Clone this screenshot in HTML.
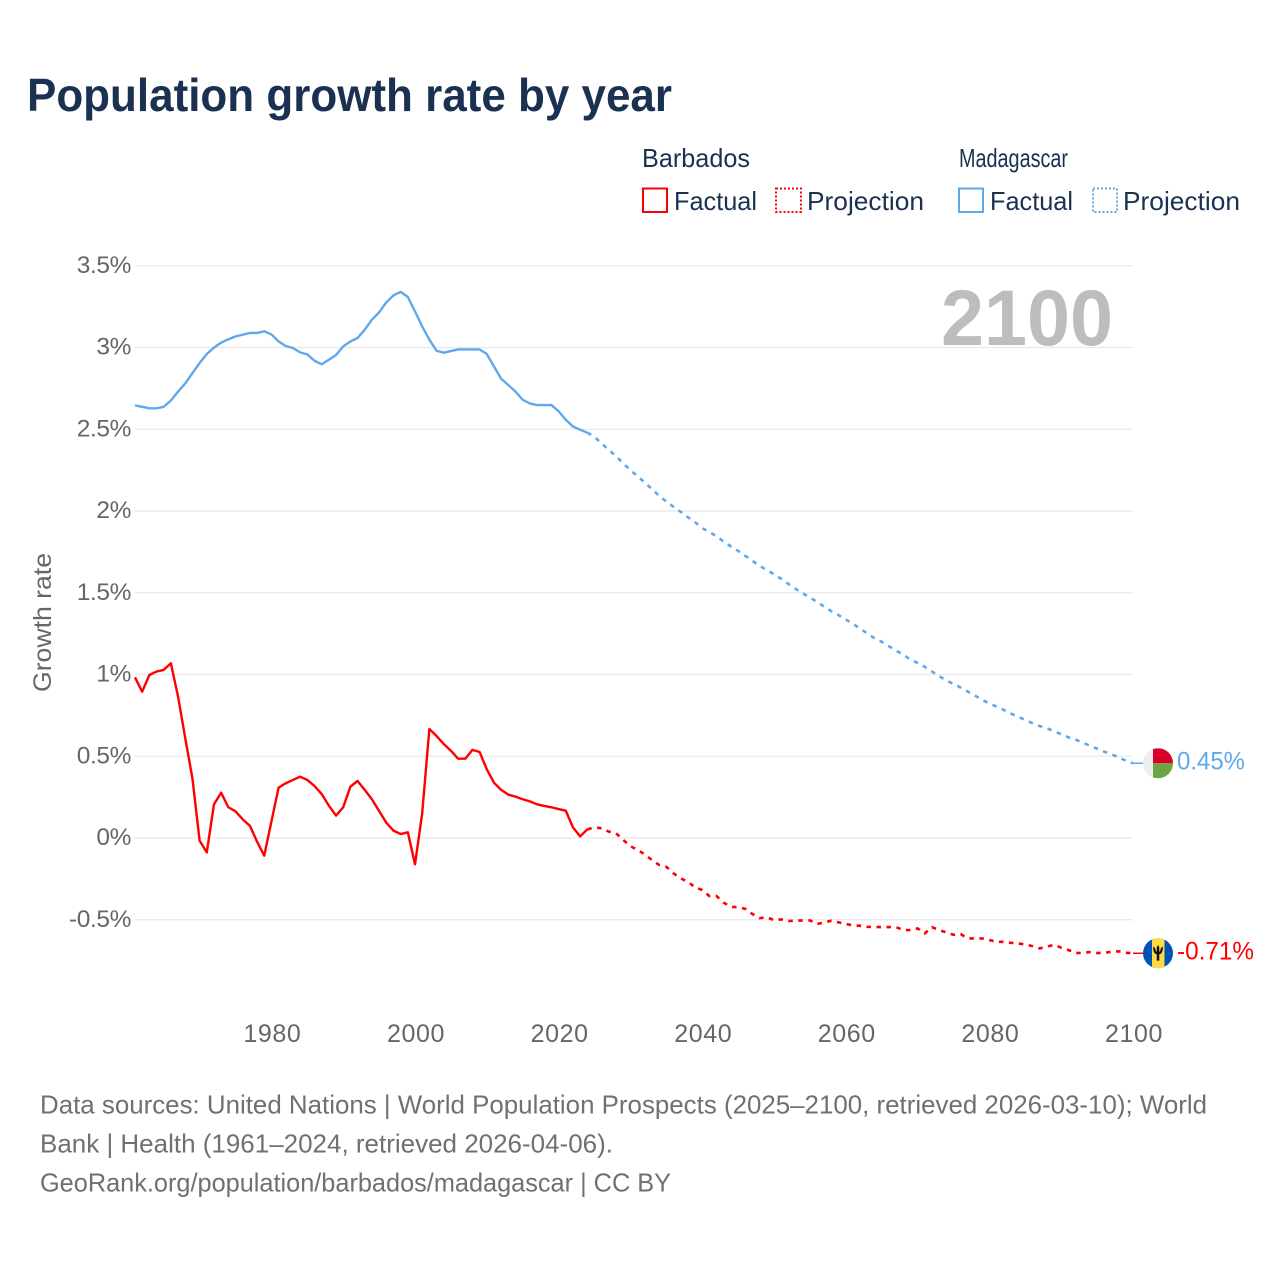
<!DOCTYPE html>
<html lang="en">
<head>
<meta charset="utf-8">
<title>Population growth rate by year</title>
<style>
html,body{margin:0;padding:0;background:#fff;}
svg{display:block;font-family:"Liberation Sans",Arial,sans-serif;}
</style>
</head>
<body>
<svg id="chart" width="1280" height="1280" viewBox="0 0 1280 1280" xmlns="http://www.w3.org/2000/svg">
  <defs>
    <clipPath id="flag-clip-mg"><circle id="flag-clip-mg-circle" r="15"/></clipPath>
    <clipPath id="flag-clip-bb"><circle id="flag-clip-bb-circle" r="15"/></clipPath>
  </defs>
  <rect width="1280" height="1280" fill="#fff"/>
  <text x="27" y="111" font-size="46" font-weight="700" fill="#1a3152" textLength="645" lengthAdjust="spacingAndGlyphs">Population growth rate by year</text>

  <g fill="#1a3152" font-size="26">
    <text x="642" y="167" textLength="108" lengthAdjust="spacingAndGlyphs">Barbados</text>
    <text x="959" y="167" textLength="109" lengthAdjust="spacingAndGlyphs">Madagascar</text>
    <rect x="643" y="188.5" width="24" height="23.5" fill="none" stroke="#ff0000" stroke-width="2"/>
    <text x="674" y="210" textLength="83" lengthAdjust="spacingAndGlyphs">Factual</text>
    <rect x="776" y="188.5" width="25" height="23.5" fill="none" stroke="#ff0000" stroke-width="2" stroke-dasharray="2 2"/>
    <text x="807" y="210" textLength="117" lengthAdjust="spacingAndGlyphs">Projection</text>
    <rect x="959" y="188.5" width="24" height="23.5" fill="none" stroke="#5ea8ee" stroke-width="2"/>
    <text x="990" y="210" textLength="83" lengthAdjust="spacingAndGlyphs">Factual</text>
    <rect x="1093" y="188.5" width="24" height="23.5" fill="none" stroke="#5ea8ee" stroke-width="2" stroke-dasharray="2 2"/>
    <text x="1123" y="210" textLength="117" lengthAdjust="spacingAndGlyphs">Projection</text>
  </g>

  <g id="grid"></g>
  <g id="y-axis" fill="#666" font-size="24.5" text-anchor="end" letter-spacing="-0.4"></g>
  <g id="x-axis" fill="#666" font-size="25" text-anchor="middle" letter-spacing="0.6"></g>

  <text transform="translate(51,692) rotate(-90)" font-size="25" fill="#666" textLength="139" lengthAdjust="spacingAndGlyphs">Growth rate</text>
  <text x="1113" y="345" font-size="79" font-weight="700" fill="#bdbdbd" text-anchor="end" textLength="172" lengthAdjust="spacingAndGlyphs">2100</text>

  <path id="mg-factual" fill="none" stroke="#5ea8ee" stroke-width="2.4" stroke-linejoin="round"/>
  <path id="mg-projection" fill="none" stroke="#5ea8ee" stroke-width="2.6" stroke-dasharray="4.5 5.5"/>
  <path id="bb-factual" fill="none" stroke="#ff0000" stroke-width="2.4" stroke-linejoin="round"/>
  <path id="bb-projection" fill="none" stroke="#ff0000" stroke-width="2.6" stroke-dasharray="4.5 5.5"/>
  <line id="mg-connector" stroke="#5ea8ee" stroke-width="1.5"/>
  <line id="bb-connector" stroke="#ff0000" stroke-width="1.5"/>

  <g id="flag-mg">
    <g clip-path="url(#flag-clip-mg)">
      <rect x="-15" y="-15" width="30" height="30" fill="#eeeeee"/>
      <rect x="-5" y="-15" width="20" height="15" fill="#d80027"/>
      <rect x="-5" y="0" width="20" height="15" fill="#6da544"/>
    </g>
  </g>
  <g id="flag-bb">
    <g clip-path="url(#flag-clip-bb)">
      <rect x="-15" y="-15" width="30" height="30" fill="#0052b4"/>
      <rect x="-6" y="-15" width="12.5" height="30" fill="#ffda44"/>
      <path d="M-4.5 -6 C-4.5 -1 -3 0.5 -0.9 0.8 L-0.9 7 L0.9 7 L0.9 0.8 C3 0.5 4.5 -1 4.5 -6 L3 -4.5 C3 -2.5 2 -1.2 0.9 -1 L0.9 -6 L0 -7.5 L-0.9 -6 L-0.9 -1 C-2 -1.2 -3 -2.5 -3 -4.5 Z" fill="#111" stroke="#111" stroke-width="0.7"/>
    </g>
  </g>
  <text id="label-mg" x="1177" y="769" font-size="25" fill="#5ea8ee" textLength="68" lengthAdjust="spacingAndGlyphs"></text>
  <text id="label-bb" x="1177" y="959" font-size="25" fill="#ff0000" textLength="77" lengthAdjust="spacingAndGlyphs"></text>

  <g font-size="26" fill="#707070">
    <text x="40" y="1113.5" textLength="1167" lengthAdjust="spacingAndGlyphs">Data sources: United Nations | World Population Prospects (2025–2100, retrieved 2026-03-10); World</text>
    <text x="40" y="1152.5" textLength="573" lengthAdjust="spacingAndGlyphs">Bank | Health (1961–2024, retrieved 2026-04-06).</text>
    <text x="40" y="1191.5" textLength="631" lengthAdjust="spacingAndGlyphs">GeoRank.org/population/barbados/madagascar | CC BY</text>
  </g>
</svg>
<script>
const years = [1961,1962,1963,1964,1965,1966,1967,1968,1969,1970,1971,1972,1973,1974,1975,1976,1977,1978,1979,1980,
1981,1982,1983,1984,1985,1986,1987,1988,1989,1990,1991,1992,1993,1994,1995,1996,1997,1998,1999,2000,
2001,2002,2003,2004,2005,2006,2007,2008,2009,2010,2011,2012,2013,2014,2015,2016,2017,2018,2019,2020,
2021,2022,2023,2024,2025,2026,2027,2028,2029,2030,2031,2032,2033,2034,2035,2036,2037,2038,2039,2040,
2041,2042,2043,2044,2045,2046,2047,2048,2049,2050,2051,2052,2053,2054,2055,2056,2057,2058,2059,2060,
2061,2062,2063,2064,2065,2066,2067,2068,2069,2070,2071,2072,2073,2074,2075,2076,2077,2078,2079,2080,
2081,2082,2083,2084,2085,2086,2087,2088,2089,2090,2091,2092,2093,2094,2095,2096,2097,2098,2099,2100];
const barbadosValues = [0.983,0.895,0.997,1.018,1.028,1.069,0.865,0.61,0.365,-0.016,-0.088,0.206,0.277,0.188,0.163,0.114,0.075,-0.022,-0.108,0.1,
0.308,0.335,0.355,0.375,0.355,0.318,0.269,0.198,0.137,0.188,0.314,0.349,0.294,0.237,0.165,0.094,0.045,0.024,0.035,-0.161,
0.151,0.667,0.624,0.575,0.534,0.485,0.485,0.539,0.526,0.42,0.338,0.294,0.265,0.253,0.237,0.224,0.206,0.196,0.188,0.177,
0.167,0.065,0.01,0.053,0.065,0.059,0.039,0.029,-0.012,-0.05,-0.073,-0.1,-0.135,-0.165,-0.176,-0.216,-0.247,-0.267,-0.302,-0.318,
-0.355,-0.355,-0.396,-0.42,-0.424,-0.433,-0.465,-0.49,-0.485,-0.502,-0.498,-0.508,-0.506,-0.504,-0.504,-0.526,-0.516,-0.506,-0.516,-0.526,
-0.534,-0.537,-0.543,-0.545,-0.545,-0.545,-0.545,-0.563,-0.563,-0.553,-0.583,-0.545,-0.563,-0.577,-0.592,-0.588,-0.614,-0.614,-0.614,-0.624,
-0.635,-0.635,-0.641,-0.645,-0.651,-0.661,-0.675,-0.665,-0.653,-0.671,-0.685,-0.704,-0.702,-0.698,-0.704,-0.702,-0.696,-0.693,-0.702,-0.705];
const madagascarValues = [2.646,2.637,2.628,2.628,2.637,2.676,2.73,2.78,2.843,2.905,2.96,2.999,3.03,3.05,3.068,3.078,3.089,3.089,3.099,3.08,
3.037,3.009,2.997,2.97,2.958,2.919,2.897,2.925,2.954,3.007,3.037,3.058,3.109,3.17,3.215,3.276,3.319,3.34,3.309,3.221,
3.129,3.048,2.98,2.968,2.978,2.988,2.988,2.988,2.988,2.96,2.884,2.809,2.77,2.73,2.68,2.658,2.648,2.648,2.648,2.61,
2.558,2.517,2.497,2.479,2.454,2.413,2.373,2.336,2.291,2.25,2.213,2.174,2.134,2.093,2.058,2.026,1.995,1.962,1.932,1.895,
1.873,1.844,1.813,1.783,1.756,1.726,1.695,1.665,1.638,1.614,1.585,1.554,1.524,1.497,1.471,1.444,1.415,1.387,1.363,1.336,
1.31,1.281,1.251,1.222,1.2,1.173,1.146,1.122,1.091,1.071,1.047,1.018,0.991,0.963,0.943,0.92,0.895,0.871,0.845,0.822,
0.804,0.783,0.761,0.742,0.722,0.702,0.685,0.671,0.653,0.635,0.616,0.602,0.583,0.565,0.546,0.528,0.512,0.494,0.473,0.457];
const lastFactualYear = 2024;
const yTickValues = [3.5,3,2.5,2,1.5,1,0.5,0,-0.5];
const yTickLabels = ["3.5%","3%","2.5%","2%","1.5%","1%","0.5%","0%","-0.5%"];
const xTickValues = [1980,2000,2020,2040,2060,2080,2100];
const xTickLabels = ["1980","2000","2020","2040","2060","2080","2100"];
const endLabels = {madagascar:"0.45%", barbados:"-0.71%"};

const NS = "http://www.w3.org/2000/svg";
function xScale(year){ return 415 + (year - 2000) * 7.18; }
function yScale(value){ return 838 - value * 163.5; }
function linePath(values, from, to){
  let d = "";
  years.forEach(function(yr, i){
    if (yr < from || yr > to) return;
    d += (d ? "L" : "M") + xScale(yr).toFixed(2) + " " + yScale(values[i]).toFixed(2);
  });
  return d;
}

const grid = document.getElementById("grid");
const yAxis = document.getElementById("y-axis");
yTickValues.forEach(function(v, i){
  const gl = document.createElementNS(NS, "line");
  
  
  gl.setAttribute("x1", xScale(1961));
  gl.setAttribute("x2", xScale(2100));
  gl.setAttribute("y1", yScale(v));
  gl.setAttribute("y2", yScale(v));
  gl.setAttribute("stroke", "#e8e8e8");
  gl.setAttribute("stroke-width", "1.2");
  grid.appendChild(gl);
  const t = document.createElementNS(NS, "text");
  
  
  t.setAttribute("x", 131);
  t.setAttribute("y", yScale(v) + 7);
  t.textContent = yTickLabels[i];
  yAxis.appendChild(t);
});

const xAxis = document.getElementById("x-axis");
xTickValues.forEach(function(yr, i){
  const t = document.createElementNS(NS, "text");
  
  
  t.setAttribute("x", xScale(yr) + 1);
  t.setAttribute("y", 1042);
  t.textContent = xTickLabels[i];
  xAxis.appendChild(t);
});

const endYear = years[years.length - 1];
const startYear = years[0];
document.getElementById("mg-factual").setAttribute("d", linePath(madagascarValues, startYear, lastFactualYear));
document.getElementById("mg-projection").setAttribute("d", linePath(madagascarValues, lastFactualYear, endYear));
document.getElementById("bb-factual").setAttribute("d", linePath(barbadosValues, startYear, lastFactualYear));
document.getElementById("bb-projection").setAttribute("d", linePath(barbadosValues, lastFactualYear, endYear));

function placeEnd(prefix, values, label){
  const last = values[values.length - 1];
  const y = yScale(last);
  const cx = xScale(endYear) + 25;
  const conn = document.getElementById(prefix + "-connector");
  conn.setAttribute("x1", xScale(endYear));
  conn.setAttribute("x2", cx - 15);
  conn.setAttribute("y1", y);
  conn.setAttribute("y2", y);
  document.getElementById("flag-" + prefix).setAttribute("transform", "translate(" + cx + "," + y + ")");
  const clipCircle = document.getElementById("flag-clip-" + prefix + "-circle");
  clipCircle.setAttribute("cx", 0);
  clipCircle.setAttribute("cy", 0);
  const lab = document.getElementById("label-" + prefix);
  lab.setAttribute("y", y + 6);
  lab.textContent = label;
}
placeEnd("mg", madagascarValues, endLabels.madagascar);
placeEnd("bb", barbadosValues, endLabels.barbados);
</script>
</body>
</html>
